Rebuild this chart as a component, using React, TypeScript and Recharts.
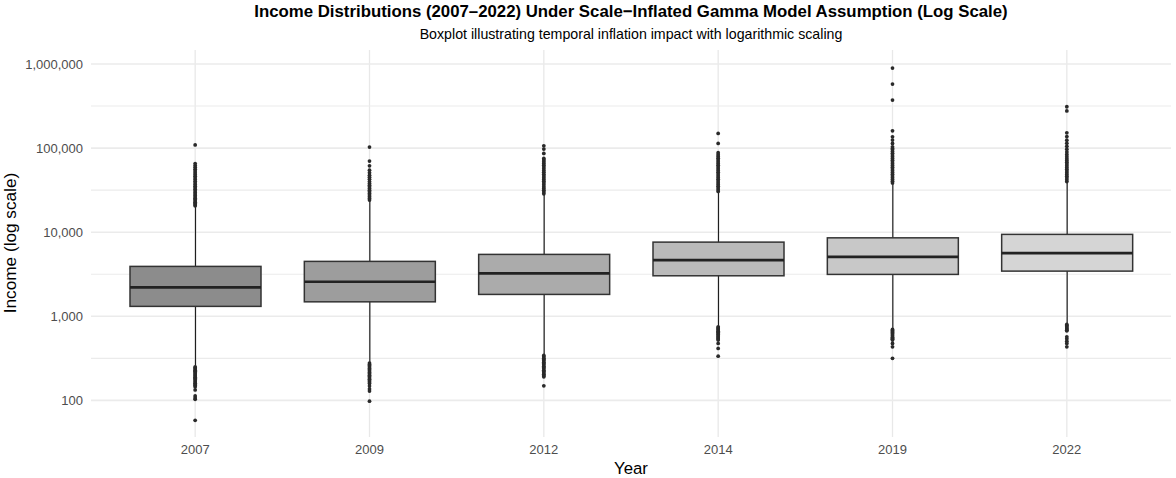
import React from "react";
import { ComposedChart, Bar, Scatter, XAxis, YAxis, CartesianGrid, Cell } from "recharts";

// ---------- data ----------
const years = ["2007", "2009", "2012", "2014", "2019", "2022"];
const whiskerLow = [258, 287, 352, 762, 708, 815];
const q1 = [1312, 1486, 1820, 3032, 3148, 3445];
const median = [2206, 2570, 3236, 4660, 5090, 5640];
const q3 = [3920, 4497, 5445, 7620, 8570, 9420];
const whiskerHigh = [20200, 23600, 28200, 30100, 38300, 39300];

const out2007 = [
  20600, 21200, 21900, 22700, 23500, 24400, 25300, 26300, 27400, 28500, 29700, 31000, 32300, 33800,
  35200, 36800, 38500, 40300, 42200, 44200, 46300, 48500, 51000, 53500, 56200, 59000, 62000, 65500,
  109000,
  250, 244, 236, 229, 222, 215, 208, 201, 195, 189, 183, 177, 171, 165, 160, 155, 150, 145, 133, 113,
  107, 103, 58,
];
const out2009 = [
  24100, 25200, 26400, 27600, 28900, 30200, 31600, 33100, 34600, 36200, 38000, 40000, 42500, 45000,
  47500, 50800, 54700, 61600, 70000, 102800,
  278, 268, 258, 249, 240, 231, 223, 215, 207, 199, 192, 185, 178, 171, 165, 159, 148, 137, 129, 98,
];
const out2012 = [
  28600, 30000, 31500, 33100, 34800, 36600, 38500, 40400, 42400, 44500, 46700, 49000, 51500, 54000,
  56700, 59500, 62500, 65600, 68900, 72300, 75300, 86400, 97300, 106400,
  342, 330, 318, 307, 296, 285, 275, 265, 255, 246, 237, 228, 220, 212, 204, 197, 191, 149,
];
const out2014 = [
  30500, 32000, 33600, 35300, 37000, 38800, 40700, 42700, 44800, 47000, 49300, 51700, 54200, 56800,
  59600, 62500, 65600, 68800, 72200, 75700, 79400, 83300, 88000, 113700, 149600,
  750, 728, 706, 685, 664, 644, 625, 606, 588, 570, 553, 537, 521, 476, 415, 336,
];
const out2019 = [
  38500, 40400, 42400, 44500, 46700, 49000, 51400, 53900, 56500, 59300, 62200, 65200, 68400, 71700,
  75200, 78900, 82700, 86700, 90900, 95300, 99100, 103600, 113700, 124500, 136100, 160600, 372000,
  577000, 894000,
  698, 677, 657, 637, 618, 600, 582, 565, 548, 532, 521, 476, 434, 316,
];
const out2022 = [
  40000, 42000, 44100, 46300, 48600, 51000, 53500, 56100, 58900, 61800, 64800, 68000, 71300, 74800,
  78900, 84000, 90000, 97000, 105000, 114000, 124000, 137000, 152000, 277000, 310000,
  800, 775, 750, 727, 705, 684, 673, 570, 540, 505, 476, 434,
];
const outliers = [out2007, out2009, out2012, out2014, out2019, out2022];

const yTicks = [100, 1000, 10000, 100000, 1000000];
const yMinorGrid = [316.23, 3162.3, 31623, 316228];
const yDomain = [36.7, 1467000];

// ---------- styles ----------
const boxFills = ["#8c8c8c", "#9d9d9d", "#ababab", "#bababa", "#c8c8c8", "#d5d5d5"];
const FONT = '"Liberation Sans", Arial, Helvetica, sans-serif';
const PAD = { left: 17, right: 17 };

const boxData = years.map((year, i) => ({
  year,
  whisker: [whiskerLow[i], whiskerHigh[i]],
  box: [q1[i], q3[i]],
  med: [median[i], median[i]],
}));

const outlierData = years.flatMap((year, i) => outliers[i].map((value) => ({ year, value })));

const WhiskerShape = (p: any) => {
  const cx = p.x + p.width / 2;
  return <line x1={cx} x2={cx} y1={p.y} y2={p.y + p.height} stroke="#1f1f1f" strokeWidth={1.2} />;
};
const BoxShape = (p: any) => (
  <rect x={p.x} y={p.y} width={p.width} height={p.height} fill={p.fill} stroke="#333333" strokeWidth={1.5} />
);
const MedianShape = (p: any) => {
  const my = p.y + p.height / 2;
  return <line x1={p.x} x2={p.x + p.width} y1={my} y2={my} stroke="#222222" strokeWidth={2.6} />;
};
const PointShape = (p: any) => <circle cx={p.cx} cy={p.cy} r={1.9} fill="#2a2a2a" />;

const fmt = (v: number) => v.toLocaleString("en-US");

export default function App() {
  return (
    <div style={{ position: "absolute", left: 0, top: 0, width: 1176, height: 478, background: "#fff", fontFamily: FONT }}>
      <div style={{ position: "absolute", left: 0, width: 1262, top: 2, textAlign: "center", fontSize: 16.8, fontWeight: "bold", color: "#000", lineHeight: "20px" }}>
        Income Distributions (2007–2022) Under Scale−Inflated Gamma Model Assumption (Log Scale)
      </div>
      <div style={{ position: "absolute", left: 0, width: 1262, top: 25, textAlign: "center", fontSize: 14.2, color: "#000", lineHeight: "18px" }}>
        Boxplot illustrating temporal inflation impact with logarithmic scaling
      </div>
      <div style={{ position: "absolute", left: 10, top: 243, width: 0, height: 0 }}>
        <div style={{ position: "absolute", transform: "translate(-50%, -50%) rotate(-90deg)", whiteSpace: "nowrap", fontSize: 17.2, color: "#000", lineHeight: "18px" }}>
          Income (log scale)
        </div>
      </div>
      <div style={{ position: "absolute", left: 0, width: 1262, top: 460, textAlign: "center", fontSize: 16.8, color: "#000", lineHeight: "18px" }}>
        Year
      </div>
      <ComposedChart width={1176} height={478} data={boxData} margin={{ top: 50, right: 5, bottom: 0, left: 0 }}>
        <CartesianGrid xAxisId="main" stroke="#E8E8E8" strokeWidth={1.3} horizontal={false} vertical={true} syncWithTicks />
        <CartesianGrid xAxisId="main" stroke="#EBEBEB" strokeWidth={1.6} horizontal={true} vertical={false} horizontalValues={yTicks} syncWithTicks />
        <CartesianGrid xAxisId="main" stroke="#EBEBEB" strokeWidth={1.1} horizontal={true} vertical={false} horizontalValues={yMinorGrid} syncWithTicks />
        <XAxis
          xAxisId="main"
          dataKey="year"
          type="category"
          padding={PAD}
          height={41}
          tickLine={false}
          axisLine={false}
          tick={{ fill: "#4D4D4D", fontSize: 13, fontFamily: FONT }}
        />
        <XAxis xAxisId="w" dataKey="year" type="category" orientation="top" height={0} padding={PAD} hide />
        <XAxis xAxisId="b" dataKey="year" type="category" orientation="top" height={0} padding={PAD} hide />
        <XAxis xAxisId="m" dataKey="year" type="category" orientation="top" height={0} padding={PAD} hide />
        <XAxis xAxisId="s" dataKey="year" type="category" orientation="top" height={0} padding={PAD} allowDuplicatedCategory={false} hide />
        <YAxis
          scale="log"
          domain={yDomain}
          allowDataOverflow
          ticks={yTicks}
          tickFormatter={fmt}
          width={91}
          tickLine={false}
          axisLine={false}
          interval={0}
          tick={{ fill: "#4D4D4D", fontSize: 13, fontFamily: FONT }}
        />
        <YAxis yAxisId="s" dataKey="value" scale="log" domain={yDomain} allowDataOverflow orientation="right" width={0} hide />
        <Bar xAxisId="w" dataKey="whisker" barSize={131} shape={WhiskerShape} isAnimationActive={false} />
        <Bar xAxisId="b" dataKey="box" barSize={131} shape={BoxShape} isAnimationActive={false}>
          {boxData.map((d, i) => (
            <Cell key={d.year} fill={boxFills[i]} />
          ))}
        </Bar>
        <Bar xAxisId="m" dataKey="med" barSize={131} shape={MedianShape} isAnimationActive={false} />
        <Scatter xAxisId="s" yAxisId="s" data={outlierData} dataKey="value" shape={PointShape} isAnimationActive={false} />
      </ComposedChart>
    </div>
  );
}
